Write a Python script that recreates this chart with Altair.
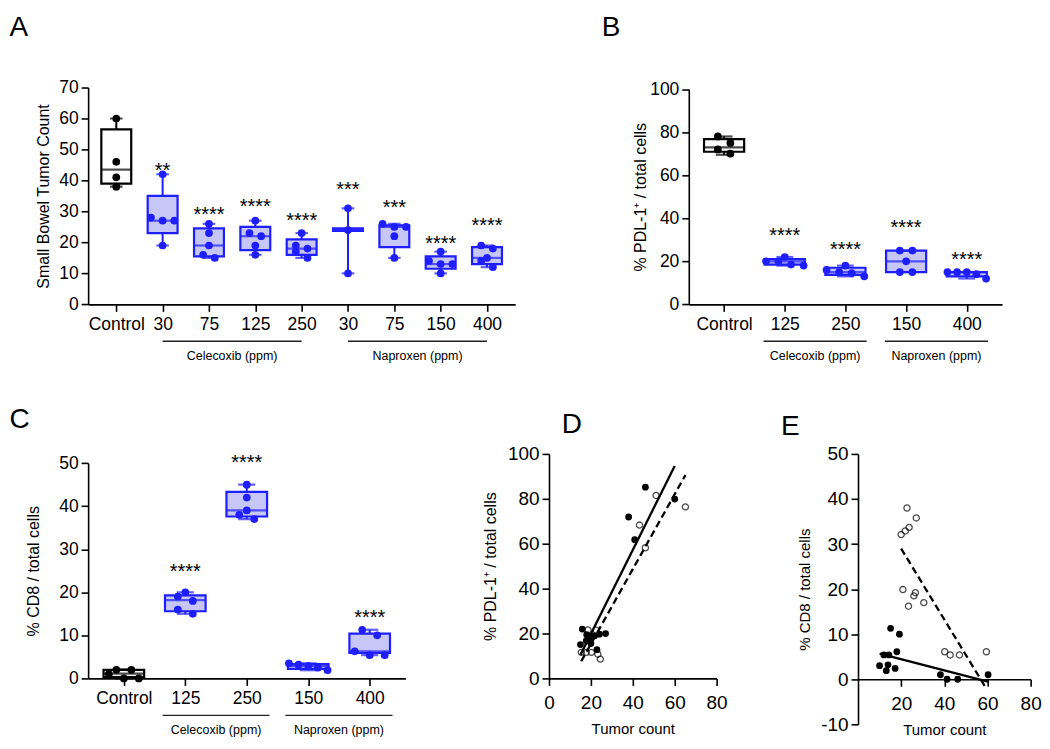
import json
import altair as alt
import pandas as pd

FONT = "Liberation Sans"
BLUE = "#1e1eff"
BLUE_FILL = "#c6c6f7"

# ---------------- Panel A : small bowel tumor count ----------------
a_labels = ["Control", "30", "75", "125", "250", "30", "75", "150", "400"]
a_points = [
    [60, 46, 41, 38],
    [42, 28, 27, 27, 19],
    [26, 23, 19, 16, 15],
    [27, 23, 22, 19, 16],
    [23, 19, 18, 17, 15],
    [31, 24, 10],
    [26, 25, 25, 22, 15],
    [17, 14, 13, 13, 10],
    [19, 18, 15, 14, 12],
]
a_lo = [38, 19, 15, 16, 15, 10, 15, 10, 12]
a_q1 = [39, 23, 15.5, 17.5, 16, 23.7, 18.5, 11.5, 13]
a_med = [43.5, 27, 19, 22, 18, 24, 25, 13, 15]
a_q3 = [56.5, 35, 24.5, 25, 21, 24.5, 25.5, 15.5, 18.5]
a_hi = [60, 42, 26, 27, 23, 31, 26, 17, 19]
a_stars = ["", "**", "****", "****", "****", "***", "***", "****", "****"]
a_star_y = [0, 44.8, 30.7, 33.1, 28.6, 38.7, 32.7, 21.3, 27.0]
a_groups = ["Celecoxib (ppm)", "Naproxen (ppm)"]
a_spans = [(1, 4), (5, 8)]

# ---------------- Panel B : % PDL-1+ ----------------
b_labels = ["Control", "125", "250", "150", "400"]
b_points = [
    [78, 75, 72, 70],
    [22, 18, 20, 18.5, 20],
    [18, 13, 16, 14.5, 15],
    [25, 25, 20, 15, 15],
    [14, 15, 15, 15, 12],
]
b_lo = [69.5, 18, 13, 15, 12]
b_q1 = [70.9, 18.5, 13.7, 15, 13]
b_med = [72.9, 20, 15, 20, 15]
b_q3 = [76.8, 21, 17, 25, 15]
b_hi = [78, 22, 18, 25, 15]
b_stars = ["", "****", "****", "****", "****"]
b_star_y = [0, 34.1, 27.6, 37.9, 22.9]
b_groups = ["Celecoxib (ppm)", "Naproxen (ppm)"]
b_spans = [(1, 2), (3, 4)]

# ---------------- Panel C : % CD8 ----------------
c_labels = ["Control", "125", "250", "150", "400"]
c_points = [
    [0, 0, 1, 2, 2],
    [20, 19, 18, 16, 15],
    [45, 42, 39, 38, 37],
    [2.5, 3.5, 2.9, 3.2, 1.9],
    [11.3, 10, 6.3, 5.4, 5.4],
]
c_lo = [0, 15, 37, 1.9, 5.4]
c_q1 = [0.3, 15.6, 37.6, 2.2, 5.9]
c_med = [1.1, 18.2, 39, 2.9, 6.3]
c_q3 = [2.0, 19.3, 43.3, 3.3, 10.4]
c_hi = [2.1, 20, 45, 3.5, 11.3]
c_stars = ["", "****", "****", "", "****"]
c_star_y = [0, 26.0, 51.3, 0, 15.3]
c_groups = ["Celecoxib (ppm)", "Naproxen (ppm)"]
c_spans = [(1, 2), (3, 4)]

# ---------------- Panel D : PDL-1 vs tumor count ----------------
d_fill_x = [46.0, 38.0, 40.9, 60.0, 15.9, 27.0, 22.9, 15.0, 19.4, 21.8, 17.8, 24.1, 20.0, 18.0]
d_fill_y = [85.2, 71.9, 61.8, 79.9, 22.0, 20.0, 12.8, 15.1, 18.2, 19.0, 16.8, 19.7, 15.5, 19.5]
d_open_x = [51.1, 65.1, 43.2, 46.0, 18.6, 15.4, 17.8, 20.2, 23.3, 24.5, 22.5]
d_open_y = [81.5, 76.4, 68.3, 58.2, 21.6, 11.6, 11.6, 11.6, 10.8, 8.6, 21.5]

# ---------------- Panel E : CD8 vs tumor count ----------------
e_fill_x = [15.1, 19.2, 18.0, 12.0, 14.3, 10.0, 13.1, 13.9, 17.2, 38.2, 41.3, 46.2, 60.3]
e_fill_y = [11.3, 10.0, 6.1, 5.4, 5.4, 3.0, 1.9, 3.2, 2.4, 1.0, 0.0, 0.0, 1.0]
e_open_x = [22.7, 27.0, 20.0, 21.9, 23.7, 20.8, 26.6, 25.9, 23.4, 30.5, 40.2, 42.7, 47.0, 59.5]
e_open_y = [38.0, 35.8, 32.1, 32.9, 33.7, 19.9, 19.2, 18.5, 16.2, 17.0, 6.1, 5.4, 5.4, 6.1]


def row_offsets(vals, pxu, d, s, max_total=40.0):
    """Prism-like scatter: values closer than d px share a row, spread by up to s px."""
    order = sorted(range(len(vals)), key=lambda k: vals[k])
    clusters = []
    for k in order:
        if clusters and (vals[k] - vals[clusters[-1][0]]) * pxu < d:
            clusters[-1].append(k)
        else:
            clusters.append([k])
    off = [0.0] * len(vals)
    for c in clusters:
        cs = sorted(c, key=lambda k: -vals[k])
        m = len(cs)
        step = min(s, max_total / (m - 1)) if m > 1 else 0
        for j, k in enumerate(cs):
            off[k] = (j - (m - 1) / 2) * step
    return off


def letter_layer(letter, dx, dy):
    return alt.Chart(pd.DataFrame({"t": [letter]})).mark_text(
        fontSize=28, align="left", baseline="alphabetic", font=FONT
    ).encode(x=alt.value(dx), y=alt.value(dy), text="t:N")


def box_panel(labels, points, lo, q1, med, q3, hi, stars, star_y, ymax, ystep,
              ytitle, width, height, top_pad, box_frac, spread, groups, spans,
              ext, letter, ldx, ldy, title_dist):
    n = len(labels)
    band = width / n
    pxu = (height - top_pad) / ymax
    box_px = band * box_frac
    cap_px = box_px * 0.42
    cols = ["black"] + [BLUE] * (n - 1)
    fills = ["white"] + [BLUE_FILL] * (n - 1)
    stats = pd.DataFrame(dict(i=list(range(n)), lo=lo, q1=q1, med=med, q3=q3,
                              hi=hi, col=cols, fill=fills, star=stars, sy=star_y))
    rows = []
    for i, vals in enumerate(points):
        offs = row_offsets(vals, pxu, 8.0, spread)
        for v, o in zip(vals, offs):
            rows.append(dict(xp=i + o / band, v=v, col=cols[i]))
    pts = pd.DataFrame(rows)
    grp = pd.DataFrame(dict(name=groups,
                            s=[a - ext for a, b in spans],
                            e=[b + ext for a, b in spans],
                            c=[(a + b) / 2 for a, b in spans]))

    xs = alt.Scale(domain=[-0.5, n - 0.5], nice=False, zero=False)
    ys = alt.Scale(domain=[0, ymax], range=[height, top_pad], nice=False, zero=False)
    xaxis = alt.Axis(values=list(range(n)), labelExpr=json.dumps(labels) + "[datum.value]",
                     title=None, labelOverlap=False, labelFlush=False, labelPadding=4,
                     labelFontSize=17.5)
    yaxis = alt.Axis(values=list(range(0, ymax + 1, ystep)), title=ytitle,
                     titleX=-title_dist, titleY=(height + top_pad) / 2,
                     titleBaseline="middle", titleFontSize=16, labelFontSize=17.5,
                     labelPadding=3, labelOverlap=False, labelFlush=False)

    def X(f):
        return alt.X(f, type="quantitative", scale=xs, axis=xaxis)

    def Y(f):
        return alt.Y(f, type="quantitative", scale=ys, axis=yaxis)

    col = alt.Color("col:N", scale=None)
    whisk = alt.Chart(stats).mark_rule(strokeWidth=2).encode(x=X("i"), y=Y("lo"), y2="hi", color=col)
    box = alt.Chart(stats).mark_bar(size=box_px, strokeWidth=2.2).encode(
        x=X("i"), y=Y("q1"), y2="q3",
        fill=alt.Fill("fill:N", scale=None), stroke=alt.Stroke("col:N", scale=None))
    medl = alt.Chart(stats).mark_tick(orient="horizontal", size=box_px, thickness=2.2).encode(
        x=X("i"), y=Y("med"), color=col)
    caplo = alt.Chart(stats).mark_tick(orient="horizontal", size=cap_px, thickness=2.2).encode(
        x=X("i"), y=Y("lo"), color=col)
    caphi = alt.Chart(stats).mark_tick(orient="horizontal", size=cap_px, thickness=2.2).encode(
        x=X("i"), y=Y("hi"), color=col)
    dots = alt.Chart(pts).mark_circle(size=60, opacity=1).encode(x=X("xp"), y=Y("v"), color=col)
    star = alt.Chart(stats[stats.star != ""]).mark_text(fontSize=20, baseline="alphabetic", dy=11.4).encode(
        x=X("i"), y=Y("sy"), text="star:N")
    gline = alt.Chart(grp).mark_rule(strokeWidth=1.3, color="#222222").encode(
        x=X("s"), x2="e", y=alt.value(height + 37))
    gtext = alt.Chart(grp).mark_text(fontSize=12.5, baseline="middle").encode(
        x=X("c"), y=alt.value(height + 52), text="name:N")
    return alt.layer(whisk, box, medl, caplo, caphi, dots, star, gline, gtext,
                     letter_layer(letter, ldx, ldy)).properties(width=width, height=height)


def scatter_panel(fx, fy, ox, oy, xvals, ydom, ystep, ytitle, ytitle_size, width, height,
                  letter, ldx, ldy, title_dist):
    df = pd.concat([
        pd.DataFrame(dict(x=fx, y=fy, g="filled")),
        pd.DataFrame(dict(x=ox, y=oy, g="open")),
    ], ignore_index=True)
    zero_off = -height * (0 - ydom[0]) / (ydom[1] - ydom[0])
    xs = alt.Scale(domain=[0, 80], nice=False, zero=False)
    ys = alt.Scale(domain=ydom, nice=False, zero=False)
    xaxis = alt.Axis(values=xvals, title="Tumor count", titleFontSize=15,
                     titleX=width / 2, titleY=50.5, titleBaseline="middle",
                     offset=zero_off, labelFontSize=19, labelPadding=8,
                     labelOverlap=False, labelFlush=False)
    yaxis = alt.Axis(values=list(range(ydom[0], ydom[1] + 1, ystep)), title=ytitle,
                     labelExpr="'' + datum.value",
                     titleFontSize=ytitle_size, titleX=-title_dist, titleY=height / 2,
                     titleBaseline="middle", labelFontSize=19, labelPadding=3,
                     labelOverlap=False, labelFlush=False)

    def X(f):
        return alt.X(f, type="quantitative", scale=xs, axis=xaxis)

    def Y(f):
        return alt.Y(f, type="quantitative", scale=ys, axis=yaxis)

    filled = alt.Chart(df[df.g == "filled"]).mark_circle(size=46, opacity=1, color="black").encode(
        x=X("x"), y=Y("y"))
    opened = alt.Chart(df[df.g == "open"]).mark_point(
        shape="circle", filled=False, size=38, strokeWidth=1.3, color="black").encode(
        x=X("x"), y=Y("y"))
    fit = alt.Chart(df).transform_regression("x", "y", groupby=["g"]).mark_line(
        color="black", strokeWidth=2.3, clip=False).encode(
        x=X("x"), y=Y("y"),
        strokeDash=alt.StrokeDash("g:N", scale=alt.Scale(domain=["filled", "open"],
                                                           range=[[1, 0], [7, 4]]), legend=None))
    return alt.layer(filled, opened, fit, letter_layer(letter, ldx, ldy)).properties(
        width=width, height=height)


A = box_panel(a_labels, a_points, a_lo, a_q1, a_med, a_q3, a_hi, a_stars, a_star_y,
              70, 10, "Small Bowel Tumor Count", 428, 217.3, 0, 0.63, 12,
              a_groups, a_spans, 0.0, "A", -78.7, -51.7, 44.7)
B = box_panel(b_labels, b_points, b_lo, b_q1, b_med, b_q3, b_hi, b_stars, b_star_y,
              100, 20, "% PDL-1\u207a / total cells", 314, 217.3, 1.6, 0.64, 13,
              b_groups, b_spans, 0.35, "B", -87.2, -51.7, 48.3)
C = box_panel(c_labels, c_points, c_lo, c_q1, c_med, c_q3, c_hi, c_stars, c_star_y,
              50, 10, "% CD8 / total cells", 318, 225, 9.2, 0.64, 15.5,
              c_groups, c_spans, 0.37, "C", -78.7, -26.2, 54.3)
D = scatter_panel(d_fill_x, d_fill_y, d_open_x, d_open_y, [0, 20, 40, 60, 80],
                  [0, 100], 20, "% PDL-1\u207a / total cells", 16, 168, 225,
                  "D", 12.7, -20.5, 58.3)
E = scatter_panel(e_fill_x, e_fill_y, e_open_x, e_open_y, [20, 40, 60, 80],
                  [-10, 50], 10, "% CD8 / total cells", 15, 173, 271,
                  "E", -77.2, -19.2, 53.4)

row1 = alt.hconcat(A, B, spacing=86)
row2 = alt.hconcat(C, alt.hconcat(D, E, spacing=52.7), spacing=76.9)

chart = alt.vconcat(row1, row2, spacing=42.2).properties(
    padding={"left": 1.3, "top": 4.9, "right": 0, "bottom": 0}
).configure_view(stroke=None).configure_axis(
    domainColor="black", domainWidth=1.6, tickColor="black", tickWidth=1.6, tickSize=7,
    labelFont=FONT, labelColor="black", titleFont=FONT, titleColor="black",
    titleFontWeight="normal", grid=False
).configure_text(font=FONT, color="black")

chart.save("out.html", embed_options={"renderer": "svg", "actions": False})
